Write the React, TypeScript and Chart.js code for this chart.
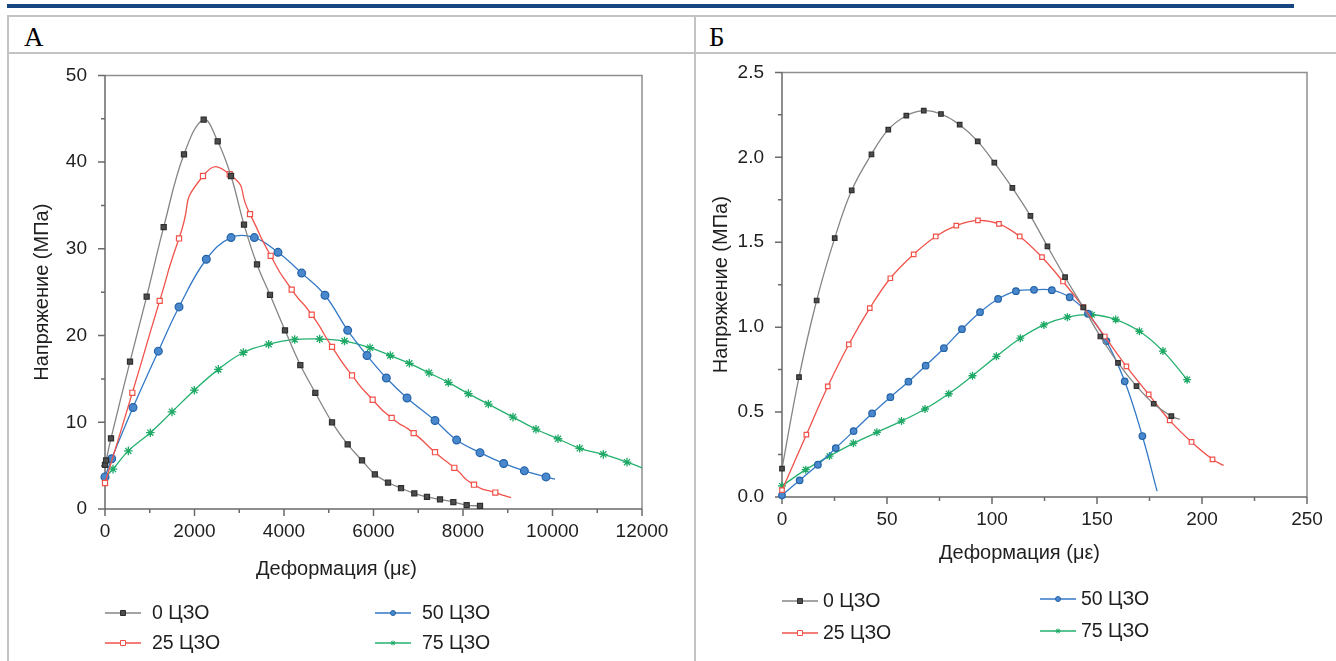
import React, { useEffect, useRef } from 'react';
import { Chart, registerables } from 'chart.js';

Chart.register(...registerables);

const FONT = "'Liberation Sans', Arial, sans-serif";
const SERIF = "'Liberation Serif', 'Times New Roman', serif";

// ---------- Labels ----------
const SERIES_LABELS = ['0 ЦЗО', '25 ЦЗО', '50 ЦЗО', '75 ЦЗО'];
const Y_TITLE = 'Напряжение (МПа)';
const X_TITLE = 'Деформация (με)';

// ---------- Chart A (strain in με, stress in MPa) ----------
const A0_X = [0, 25, 134, 559, 931, 1311, 1765, 2205, 2518, 2816, 3106, 3397, 3687, 4022, 4365, 4700, 5073, 5423, 5743, 6030, 6325, 6615, 6912, 7195, 7486, 7784, 8082, 8380];
const A0_Y = [5.1, 5.6, 8.15, 17.0, 24.5, 32.5, 40.9, 44.9, 42.4, 38.4, 32.8, 28.2, 24.7, 20.6, 16.6, 13.4, 10.0, 7.45, 5.6, 4.0, 3.05, 2.4, 1.8, 1.4, 1.1, 0.8, 0.45, 0.35];
const A1_X = [0, 611, 1222, 1654, 2190, 2786, 3240, 3702, 4172, 4619, 5073, 5520, 5981, 6406, 6898, 7374, 7806, 8246, 8722, 9073];
const A1_Y = [3.0, 13.4, 24.0, 31.2, 38.4, 38.6, 34.0, 29.2, 25.3, 22.4, 18.7, 15.4, 12.6, 10.5, 8.75, 6.55, 4.75, 2.8, 1.9, 1.3];
const A2_X = [0, 149, 626, 1192, 1654, 2264, 2816, 3337, 3866, 4395, 4916, 5423, 5855, 6287, 6749, 7374, 7858, 8380, 8909, 9371, 9855, 10056];
const A2_Y = [3.7, 5.8, 11.7, 18.2, 23.3, 28.8, 31.3, 31.3, 29.6, 27.2, 24.65, 20.6, 17.7, 15.1, 12.8, 10.2, 7.95, 6.5, 5.25, 4.4, 3.7, 3.45];
const A3_X = [0, 179, 521, 1013, 1497, 1996, 2533, 3091, 3657, 4239, 4797, 5352, 5922, 6376, 6801, 7240, 7672, 8119, 8566, 9117, 9631, 10123, 10607, 11135, 11665, 12000];
const A3_Y = [3.6, 4.6, 6.7, 8.8, 11.2, 13.7, 16.1, 18.05, 19.0, 19.55, 19.6, 19.37, 18.6, 17.7, 16.8, 15.7, 14.6, 13.3, 12.1, 10.6, 9.2, 8.1, 7.0, 6.3, 5.4, 4.75];
const A_TAIL = [false, true, true, true];
const A_X_TICKS = { min: 0, max: 12000, major: 2000, minor: 1000 };
const A_Y_TICKS = { min: 0, max: 50, major: 10, minor: 5 };

// ---------- Chart B ----------
const B0_X = [0, 8.1, 16.5, 25.1, 33.2, 42.6, 50.6, 59.2, 67.5, 75.7, 84.6, 93.2, 101.1, 109.7, 118.3, 126.4, 134.8, 143.5, 151.6, 160, 168.8, 177, 185.4, 189.4];
const B0_Y = [0.167, 0.706, 1.157, 1.524, 1.806, 2.018, 2.163, 2.245, 2.275, 2.255, 2.192, 2.094, 1.969, 1.82, 1.655, 1.476, 1.294, 1.116, 0.945, 0.79, 0.653, 0.549, 0.476, 0.457];
const B1_X = [0, 11.6, 21.8, 31.8, 41.8, 51.6, 62.7, 73.2, 83.0, 93.3, 103.3, 113.2, 123.8, 133.8, 143.5, 153.7, 164, 174.6, 184.6, 195, 205, 210.3];
const B1_Y = [0.04, 0.367, 0.651, 0.898, 1.112, 1.288, 1.429, 1.534, 1.598, 1.629, 1.608, 1.534, 1.412, 1.269, 1.118, 0.945, 0.769, 0.604, 0.451, 0.324, 0.222, 0.186];
const B2_X = [0, 8.4, 17.1, 25.6, 34.1, 42.9, 51.6, 60.2, 68.4, 77.1, 85.7, 94.3, 102.9, 111.4, 120, 128.5, 137, 145.7, 154.5, 163.2, 171.6, 178.6];
const B2_Y = [0.01, 0.098, 0.19, 0.288, 0.388, 0.492, 0.588, 0.679, 0.773, 0.876, 0.988, 1.088, 1.166, 1.212, 1.22, 1.218, 1.176, 1.079, 0.918, 0.681, 0.359, 0.035];
const B3_X = [0, 11.3, 22.6, 34.0, 45.2, 56.9, 68.1, 79.4, 90.7, 102.1, 113.5, 124.7, 135.9, 147.6, 158.9, 170.2, 181.4, 192.9];
const B3_Y = [0.065, 0.161, 0.241, 0.316, 0.381, 0.447, 0.518, 0.608, 0.714, 0.828, 0.935, 1.013, 1.059, 1.073, 1.045, 0.976, 0.859, 0.691];
const B_TAIL = [true, true, true, false];
const B_X_TICKS = { min: 0, max: 250, major: 50, minor: 25 };
const B_Y_TICKS = { min: 0, max: 2.5, major: 0.5, minor: 0.25 };

// ---------- Styles ----------
const STYLES = [
  { line: '#858585', point: 'rect', fill: '#4d4d4d', stroke: '#2f2f2f', tension: 0.4 },
  { line: '#f0524a', point: 'rect', fill: '#ffffff', stroke: '#f0524a', tension: 0.7 },
  { line: '#3479c6', point: 'circle', fill: '#4a88cd', stroke: '#2563a8', tension: 0.4 },
  { line: '#24b06f', point: 'star', fill: '#24b06f', stroke: '#1fa966', tension: 0.4 },
];

function drawMarker(ctx: CanvasRenderingContext2D, i: number, x: number, y: number, r: number) {
  const st = STYLES[i];
  ctx.save();
  ctx.lineWidth = 1;
  ctx.strokeStyle = st.stroke;
  ctx.fillStyle = st.fill;
  ctx.beginPath();
  if (st.point === 'rect') {
    ctx.rect(x - r, y - r, 2 * r, 2 * r);
    ctx.fill();
    ctx.stroke();
  } else if (st.point === 'circle') {
    ctx.arc(x, y, r, 0, Math.PI * 2);
    ctx.fill();
    ctx.stroke();
  } else {
    for (let k = 0; k < 4; k++) {
      const a = (k * Math.PI) / 4;
      ctx.moveTo(x - Math.cos(a) * r, y - Math.sin(a) * r);
      ctx.lineTo(x + Math.cos(a) * r, y + Math.sin(a) * r);
    }
    ctx.stroke();
  }
  ctx.restore();
}

const axesPlugin = {
  id: 'axesFrame',
  beforeDatasetsDraw(chart: any, _args: any, o: any) {
    const { ctx } = chart;
    const { left, right, top, bottom } = chart.chartArea;
    const xs = chart.scales.x;
    const ys = chart.scales.y;
    ctx.save();
    ctx.lineWidth = 1.5;
    ctx.strokeStyle = '#8f8f8f';
    ctx.beginPath();
    ctx.moveTo(left, top);
    ctx.lineTo(right, top);
    ctx.lineTo(right, bottom);
    ctx.stroke();
    ctx.strokeStyle = '#6a6a6a';
    ctx.beginPath();
    ctx.moveTo(left, top);
    ctx.lineTo(left, bottom);
    ctx.lineTo(right, bottom);
    const nx = Math.round((o.x.max - o.x.min) / o.x.minor);
    const rx = Math.round(o.x.major / o.x.minor);
    for (let i = 0; i <= nx; i++) {
      const px = xs.getPixelForValue(o.x.min + i * o.x.minor);
      ctx.moveTo(px, bottom);
      ctx.lineTo(px, bottom + (i % rx === 0 ? 7 : 4));
    }
    const ny = Math.round((o.y.max - o.y.min) / o.y.minor);
    const ry = Math.round(o.y.major / o.y.minor);
    for (let i = 0; i <= ny; i++) {
      const py = ys.getPixelForValue(o.y.min + i * o.y.minor);
      ctx.moveTo(left, py);
      ctx.lineTo(left - (i % ry === 0 ? 7 : 4), py);
    }
    ctx.stroke();
    ctx.restore();
  },
  afterDraw(chart: any, _args: any, o: any) {
    const ctx = chart.ctx;
    const { left, right } = chart.chartArea;
    ctx.save();
    ctx.fillStyle = '#1f1f1f';
    ctx.font = `20px ${FONT}`;
    ctx.textBaseline = 'middle';
    ctx.textAlign = 'center';
    ctx.fillText(X_TITLE, (left + right) / 2 + o.xTitle.dx, o.xTitle.y);
    chart.data.datasets.forEach((ds: any, i: number) => {
      const p = o.legend.items[i];
      ctx.strokeStyle = STYLES[i].line;
      ctx.lineWidth = 1.5;
      ctx.beginPath();
      ctx.moveTo(p.x, p.y);
      ctx.lineTo(p.x + o.legend.lineLen, p.y);
      ctx.stroke();
      drawMarker(ctx, i, p.x + o.legend.lineLen / 2, p.y, 2.5);
      ctx.fillStyle = '#1f1f1f';
      ctx.font = `19.5px ${FONT}`;
      ctx.textBaseline = 'middle';
      ctx.textAlign = 'left';
      ctx.fillText(ds.label, p.x + o.legend.lineLen + o.legend.gap, p.y + 1);
    });
    ctx.restore();
  },
};

function buildConfig(series: { xs: number[]; ys: number[] }[], tails: boolean[], cfg: any) {
  const datasets = series.map((s, i) => {
    const st = STYLES[i];
    const r = st.point === 'rect' ? cfg.rectR : st.point === 'circle' ? cfg.circleR : cfg.starR;
    return {
      label: SERIES_LABELS[i],
      data: s.xs.map((x, k) => ({ x, y: s.ys[k] })),
      borderColor: st.line,
      borderWidth: 1.3,
      tension: cfg.redTension === false && i === 1 ? 0.4 : st.tension,
      fill: false,
      clip: false as any,
      pointStyle: st.point,
      pointRadius: s.xs.map((_, k) => (tails[i] && k === s.xs.length - 1 ? 0 : r)),
      pointHoverRadius: r,
      pointBackgroundColor: st.fill,
      pointBorderColor: st.stroke,
      pointBorderWidth: st.point === 'star' ? 1.3 : 1.2,
    };
  });
  const tickFont = { family: FONT, size: 19 };
  return {
    type: 'line' as const,
    data: { datasets },
    options: {
      animation: false as const,
      responsive: false,
      devicePixelRatio: 1,
      layout: { padding: cfg.padding },
      plugins: {
        legend: { display: false },
        tooltip: { enabled: false },
        axesFrame: { x: cfg.xt, y: cfg.yt, legend: cfg.legend, xTitle: cfg.xTitle },
      },
      scales: {
        x: {
          type: 'linear' as const,
          min: cfg.xt.min,
          max: cfg.xt.max,
          grid: { display: false, drawTicks: false },
          border: { display: false },
          ticks: {
            stepSize: cfg.xt.major,
            padding: 11,
            color: '#1f1f1f',
            font: tickFont,
            maxRotation: 0,
            callback: (v: any) => String(v),
          },
          title: { display: false },
          afterFit: (s: any) => { s.height = cfg.xAxisH; },
        },
        y: {
          type: 'linear' as const,
          min: cfg.yt.min,
          max: cfg.yt.max,
          grid: { display: false, drawTicks: false },
          border: { display: false },
          ticks: {
            stepSize: cfg.yt.major,
            padding: 18,
            color: '#1f1f1f',
            font: tickFont,
            callback: (v: any) => Number(v).toFixed(cfg.yDec),
          },
          title: { display: true, text: Y_TITLE, color: '#1f1f1f', font: { family: FONT, size: 20 }, padding: { top: cfg.yTitlePad, bottom: 0 } },
          afterFit: (s: any) => { s.width = cfg.yAxisW; },
        },
      },
    },
    plugins: [axesPlugin],
  };
}

function ChartCanvas({ config, width, height, left, top }: any) {
  const ref = useRef<HTMLCanvasElement | null>(null);
  useEffect(() => {
    if (!ref.current) return;
    const chart = new Chart(ref.current, config as any);
    return () => chart.destroy();
  }, []);
  return (
    <canvas
      ref={ref}
      width={width}
      height={height}
      style={{ position: 'absolute', left, top, width, height }}
    />
  );
}

// Canvas A: page left 9, top 46, 685x615 -> plot area page x 105..642, y 75..509
const configA = buildConfig(
  [
    { xs: A0_X, ys: A0_Y },
    { xs: A1_X, ys: A1_Y },
    { xs: A2_X, ys: A2_Y },
    { xs: A3_X, ys: A3_Y },
  ],
  A_TAIL,
  {
    xt: A_X_TICKS,
    yt: A_Y_TICKS,
    yDec: 0,
    padding: { left: 0, right: 52, top: 0, bottom: 81 },
    yAxisW: 96,
    xAxisH: 71,
    yTitlePad: 21,
    rectR: 3.6,
    circleR: 3.9,
    starR: 4.3,
    xTitle: { dx: -37, y: 523 },
    legend: {
      lineLen: 36,
      gap: 11,
      items: [
        { x: 96, y: 567 },
        { x: 96, y: 597 },
        { x: 366, y: 567 },
        { x: 366, y: 597 },
      ],
    },
  }
);

// Canvas B: page left 697, top 43, 639x618 -> plot area page x 782..1307, y 72..497
const configB = buildConfig(
  [
    { xs: B0_X, ys: B0_Y },
    { xs: B1_X, ys: B1_Y },
    { xs: B2_X, ys: B2_Y },
    { xs: B3_X, ys: B3_Y },
  ],
  B_TAIL,
  {
    xt: B_X_TICKS,
    yt: B_Y_TICKS,
    yDec: 1,
    redTension: false,
    padding: { left: 0, right: 29, top: 0, bottom: 97 },
    yAxisW: 85,
    xAxisH: 67,
    yTitlePad: 12,
    rectR: 3.2,
    circleR: 3.3,
    starR: 4,
    xTitle: { dx: -25, y: 510 },
    legend: {
      lineLen: 36,
      gap: 5,
      items: [
        { x: 85, y: 558 },
        { x: 85, y: 590 },
        { x: 343, y: 556 },
        { x: 343, y: 588 },
      ],
    },
  }
);

const border = '#c3c3c3';

export default function App() {
  return (
    <div style={{ position: 'absolute', left: 0, top: 0, width: 1336, height: 661, overflow: 'hidden', background: '#fff' }}>
      <div style={{ position: 'absolute', left: 7, top: 4, width: 1287, height: 4, background: '#17457f' }} />
      <div style={{ position: 'absolute', left: 7, top: 15, width: 1329, height: 2, background: border }} />
      <div style={{ position: 'absolute', left: 7, top: 52, width: 1329, height: 2, background: border }} />
      <div style={{ position: 'absolute', left: 7, top: 15, width: 2, height: 646, background: border }} />
      <div style={{ position: 'absolute', left: 694, top: 15, width: 2, height: 646, background: border }} />
      <div style={{ position: 'absolute', left: 24, top: 22, fontFamily: SERIF, fontSize: 27, lineHeight: '30px', color: '#000' }}>А</div>
      <div style={{ position: 'absolute', left: 709, top: 22, fontFamily: SERIF, fontSize: 27, lineHeight: '30px', color: '#000' }}>Б</div>
      <ChartCanvas config={configA} width={685} height={615} left={9} top={46} />
      <ChartCanvas config={configB} width={639} height={618} left={697} top={43} />
    </div>
  );
}
